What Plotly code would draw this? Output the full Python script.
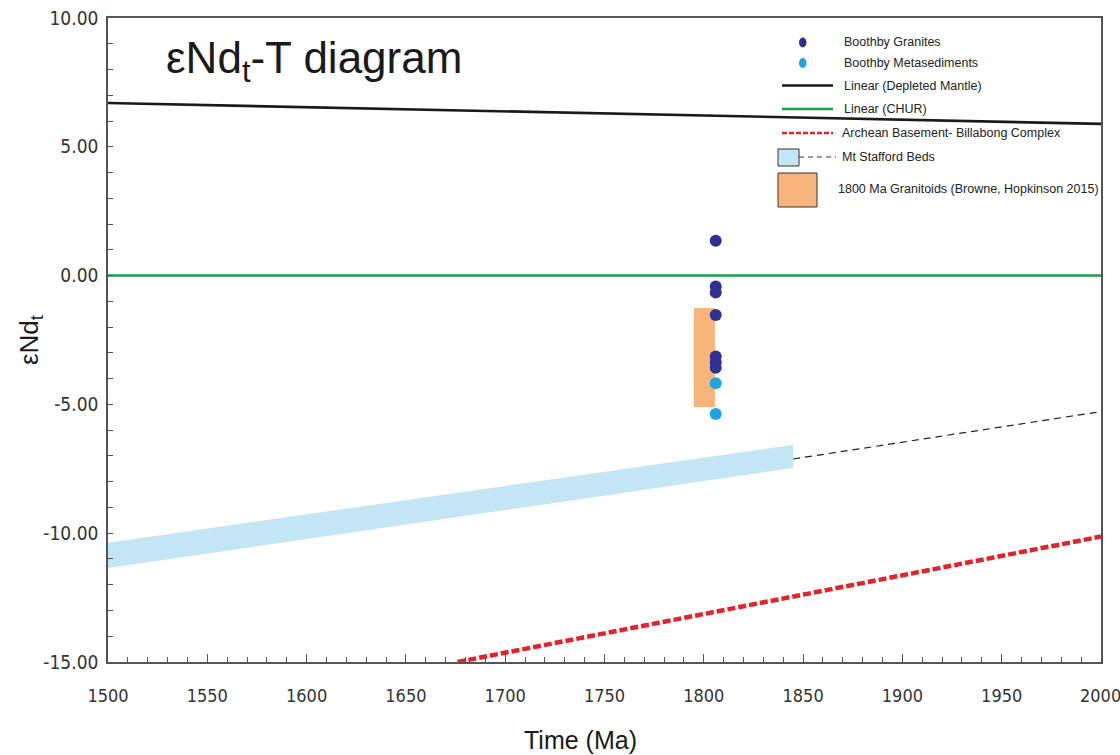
import plotly.graph_objects as go

# ---------------- data ----------------
dm_x = [1500, 2000]
dm_y = [6.70, 5.89]

chur_x = [1500, 2000]
chur_y = [0.0, 0.0]

arch_x = [1676, 2000]
arch_y = [-15.0, -10.13]

band_x = [1500, 1845]
band_top = [-10.37, -6.57]
band_bot = [-11.35, -7.47]

stafford_ext_x = [1845, 2000]
stafford_ext_y = [-7.12, -5.28]

gran_box_x = [1795, 1805.6]
gran_box_y = [-5.10, -1.26]

granites_x = [1806, 1806, 1806, 1806, 1806, 1806, 1806]
granites_y = [1.35, -0.42, -0.66, -1.53, -3.14, -3.36, -3.58]

metased_x = [1806, 1806]
metased_y = [-4.18, -5.37]

x_ticks = [1500, 1550, 1600, 1650, 1700, 1750, 1800, 1850, 1900, 1950, 2000]
x_tick_labels = ["1500", "1550", "1600", "1650", "1700", "1750", "1800", "1850", "1900", "1950", "2000"]
y_ticks = [10, 5, 0, -5, -10, -15]
y_tick_labels = ["10.00", "5.00", "0.00", "-5.00", "-10.00", "-15.00"]

# colours
C_GRAN = "#2E3192"
C_META = "#1BA6E2"
C_ORANGE = "#F9B47C"
C_BAND = "#C3E5F6"
C_GREEN = "#1B9E4B"
C_RED = "#E3232C"

W, H = 1120, 755
L, R, T, B = 108, 1101, 18, 662

def px(x):
    return (x - L) / (R - L)

def py(y):
    return (B - y) / (B - T)

fig = go.Figure()

# Mt Stafford band
fig.add_trace(go.Scatter(
    x=band_x + band_x[::-1], y=band_top + band_bot[::-1],
    fill="toself", fillcolor=C_BAND, line=dict(width=0), mode="lines",
    hoverinfo="skip", showlegend=False))
fig.add_trace(go.Scatter(
    x=stafford_ext_x, y=stafford_ext_y, mode="lines",
    line=dict(color="#222222", width=1.2, dash="7px,5px"), showlegend=False))

# Archean basement
fig.add_trace(go.Scatter(
    x=arch_x, y=arch_y, mode="lines",
    line=dict(color=C_RED, width=4.5, dash="8px,3px"), showlegend=False))

# DM and CHUR
fig.add_trace(go.Scatter(x=dm_x, y=dm_y, mode="lines",
                         line=dict(color="#1a1a1a", width=2.6), showlegend=False))
fig.add_trace(go.Scatter(x=chur_x, y=chur_y, mode="lines",
                         line=dict(color=C_GREEN, width=2.5), showlegend=False))

# 1800 Ma granitoids box
bx = [gran_box_x[0], gran_box_x[1], gran_box_x[1], gran_box_x[0], gran_box_x[0]]
by = [gran_box_y[0], gran_box_y[0], gran_box_y[1], gran_box_y[1], gran_box_y[0]]
fig.add_trace(go.Scatter(x=bx, y=by, fill="toself", fillcolor=C_ORANGE,
                         line=dict(width=0), mode="lines", showlegend=False))

# samples
fig.add_trace(go.Scatter(x=granites_x, y=granites_y, mode="markers",
                         marker=dict(color=C_GRAN, size=12, line=dict(width=0)),
                         showlegend=False))
fig.add_trace(go.Scatter(x=metased_x, y=metased_y, mode="markers",
                         marker=dict(color=C_META, size=12, line=dict(width=0)),
                         showlegend=False))

# ---------------- custom legend ----------------
shapes = []
annos = []
LFONT = dict(family="Liberation Sans, Arial, sans-serif", size=12.5, color="#222222")

def legend_text(x, y, text):
    annos.append(dict(x=px(x), y=py(y), xref="paper", yref="paper", text=text,
                      showarrow=False, xanchor="left", yanchor="middle", font=LFONT))

shapes.append(dict(type="circle", xref="paper", yref="paper",
                   x0=px(799), x1=px(806.5), y0=py(47.5), y1=py(37.5),
                   fillcolor=C_GRAN, line=dict(width=0)))
legend_text(842, 42, "Boothby Granites")
shapes.append(dict(type="circle", xref="paper", yref="paper",
                   x0=px(799), x1=px(806.5), y0=py(68), y1=py(58),
                   fillcolor=C_META, line=dict(width=0)))
legend_text(842, 63, "Boothby Metasediments")
shapes.append(dict(type="line", xref="paper", yref="paper",
                   x0=px(782), x1=px(833), y0=py(85.5), y1=py(85.5),
                   line=dict(color="#1a1a1a", width=2.5)))
legend_text(842, 86, "Linear (Depleted Mantle)")
shapes.append(dict(type="line", xref="paper", yref="paper",
                   x0=px(782), x1=px(833), y0=py(109), y1=py(109),
                   line=dict(color=C_GREEN, width=2.5)))
legend_text(842, 109, "Linear (CHUR)")
shapes.append(dict(type="line", xref="paper", yref="paper",
                   x0=px(782), x1=px(833), y0=py(133), y1=py(133),
                   line=dict(color=C_RED, width=2.5, dash="5px,2px")))
legend_text(840, 133, "Archean Basement- Billabong Complex")
shapes.append(dict(type="rect", xref="paper", yref="paper",
                   x0=px(778), x1=px(799), y0=py(166), y1=py(149),
                   fillcolor=C_BAND, line=dict(color="#333333", width=1)))
shapes.append(dict(type="line", xref="paper", yref="paper",
                   x0=px(799), x1=px(836), y0=py(157), y1=py(157),
                   line=dict(color="#333333", width=1, dash="5px,4px")))
legend_text(840, 157, "Mt Stafford Beds")
shapes.append(dict(type="rect", xref="paper", yref="paper",
                   x0=px(778), x1=px(817), y0=py(207), y1=py(173),
                   fillcolor=C_ORANGE, line=dict(color="#333333", width=1)))
legend_text(836, 189, "1800 Ma Granitoids (Browne, Hopkinson 2015)")

# title inside plot
annos.append(dict(x=px(164), y=py(61), xref="paper", yref="paper",
                  text="εNd<sub>t</sub>-T diagram", showarrow=False,
                  xanchor="left", yanchor="middle",
                  font=dict(family="Liberation Sans, Arial, sans-serif", size=44, color="#1a1a1a")))
# axis titles
annos.append(dict(x=px(580), y=py(740), xref="paper", yref="paper",
                  text="Time (Ma)", showarrow=False, xanchor="center", yanchor="middle",
                  font=dict(family="Liberation Sans, Arial, sans-serif", size=25, color="#1a1a1a")))
annos.append(dict(x=px(30), y=py(340), xref="paper", yref="paper",
                  text="εNd<sub>t</sub>", showarrow=False, xanchor="center", yanchor="middle",
                  textangle=-90,
                  font=dict(family="Liberation Sans, Arial, sans-serif", size=26, color="#1a1a1a")))

TICKFAMILY = "Liberation Sans Narrow, DejaVu Sans Condensed, Liberation Sans, Arial, sans-serif"
XTICKFONT = dict(family=TICKFAMILY, size=18, color="#333333")
YTICKFONT = dict(family=TICKFAMILY, size=19, color="#333333")

# last x label sits against the right page edge: draw it right-anchored so it stays whole
x_text_axis = x_tick_labels[:-1] + [""]
annos.append(dict(x=x_ticks[-1], y=py(695), xref="x", yref="paper", text=x_tick_labels[-1],
                  showarrow=False, xanchor="center", yanchor="middle", xshift=-1,
                  font=XTICKFONT))

fig.update_layout(
    width=W, height=H,
    margin=dict(l=L, r=W - R, t=T, b=H - B, autoexpand=False),
    paper_bgcolor="white", plot_bgcolor="white",
    shapes=shapes, annotations=annos,
    showlegend=False,
    xaxis=dict(range=[1500, 2000], tickmode="array", tickvals=x_ticks, ticktext=x_text_axis,
               ticks="inside", ticklen=8, tickwidth=1.3, tickcolor="#555555",
               showline=True, linecolor="#555555", linewidth=1.6, mirror=True,
               showgrid=False, zeroline=False, tickfont=XTICKFONT, automargin=False,
               ticklabelstandoff=17, ticklabeloverflow="allow",
               minor=dict(dtick=10, ticks="inside", ticklen=5, tickwidth=1.2,
                          tickcolor="#555555", showgrid=False)),
    yaxis=dict(range=[-15, 10], tickmode="array", tickvals=y_ticks, ticktext=y_tick_labels,
               ticks="inside", ticklen=5, tickwidth=1.3, tickcolor="#555555",
               showline=True, linecolor="#555555", linewidth=1.6, mirror=True,
               showgrid=False, zeroline=False, tickfont=YTICKFONT, automargin=False,
               ticklabelstandoff=4, ticklabeloverflow="allow",
               minor=dict(dtick=1, ticks="inside", ticklen=5, tickwidth=1.2,
                          tickcolor="#555555", showgrid=False)),
)

fig.write_html("out.html", config={"displayModeBar": False},
               post_script="document.body.style.margin='0';document.body.style.overflow='hidden';")
